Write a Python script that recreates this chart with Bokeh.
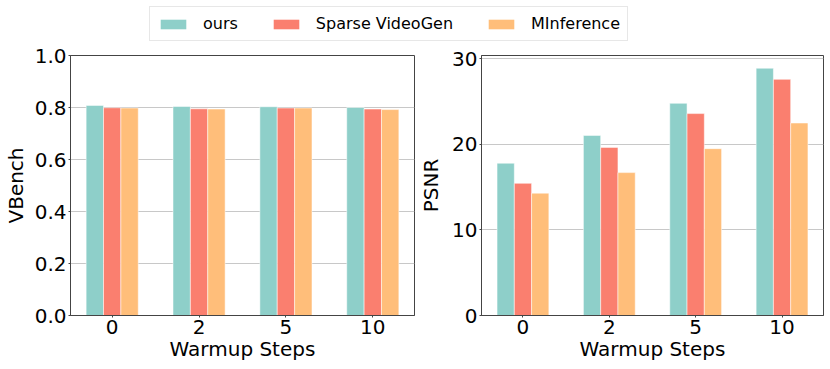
from bokeh.plotting import figure
from bokeh.models import Range1d, FixedTicker, Legend, LegendItem, ColumnDataSource, NumeralTickFormatter
from bokeh.transform import dodge
from bokeh.layouts import column, row
from bokeh.embed import file_html
from bokeh.resources import INLINE

steps = ["0", "2", "5", "10"]
methods = ["ours", "Sparse VideoGen", "MInference"]
colors = ["#8ECFC9", "#FA7F6F", "#FFBE7A"]

vbench_ours = [0.808, 0.804, 0.803, 0.800]
vbench_svg = [0.799, 0.795, 0.798, 0.794]
vbench_minf = [0.798, 0.794, 0.798, 0.792]

psnr_ours = [17.8, 21.05, 24.8, 28.9]
psnr_svg = [15.45, 19.65, 23.6, 27.6]
psnr_minf = [14.3, 16.7, 19.5, 22.5]

FONT = "DejaVu Sans"
offsets = [-0.2, 0.0, 0.2]


def make_fig(series, ylabel, y_end, yticks, fmt, w, bl, br, ylab_standoff):
    p = figure(width=w, height=324, x_range=Range1d(-0.48, 3.48), y_range=Range1d(0, y_end),
               output_backend="svg", toolbar_location=None,
               min_border_left=bl, min_border_right=br, min_border_top=14, min_border_bottom=50)
    src = ColumnDataSource(dict(x=list(range(len(steps))), s0=series[0], s1=series[1], s2=series[2]))
    for i, (off, col) in enumerate(zip(offsets, colors)):
        p.vbar(x=dodge("x", off, range=p.x_range), top="s%d" % i, width=0.2, source=src,
               fill_color=col, line_color="white", line_alpha=0.5, line_width=1)
    p.xaxis.ticker = FixedTicker(ticks=list(range(len(steps))))
    p.xaxis.major_label_overrides = {i: s for i, s in enumerate(steps)}
    p.yaxis.ticker = FixedTicker(ticks=yticks)
    if fmt:
        p.yaxis.formatter = NumeralTickFormatter(format=fmt)
    p.xaxis.axis_label = "Warmup Steps"
    p.yaxis.axis_label = ylabel
    for ax in (p.xaxis, p.yaxis):
        ax.major_label_text_font = FONT
        ax.major_label_text_font_size = "20px"
        ax.major_label_text_color = "black"
        ax.axis_label_text_font = FONT
        ax.axis_label_text_font_size = "20px"
        ax.axis_label_text_font_style = "normal"
        ax.axis_label_text_color = "black"
        ax.minor_tick_line_color = None
        ax.major_tick_in = 0
        ax.major_tick_out = 2
        ax.major_tick_line_color = "#444444"
        ax.axis_line_color = "#444444"
    p.xaxis.major_label_standoff = 2
    p.xaxis.axis_label_standoff = 0
    p.yaxis.major_label_standoff = 2
    p.yaxis.axis_label_standoff = ylab_standoff
    p.xgrid.grid_line_color = None
    p.ygrid.grid_line_color = "#c8c8c8"
    p.outline_line_color = "#444444"
    p.outline_line_alpha = 1
    return p


p1 = make_fig([vbench_ours, vbench_svg, vbench_minf], "VBench", 1.0,
              [0, 0.2, 0.4, 0.6, 0.8, 1.0], "0.0", 416, 66, 2, 4)
p2 = make_fig([psnr_ours, psnr_svg, psnr_minf], "PSNR", 30.39,
              [0, 10, 20, 30], None, 408, 58, 1, 6)

# legend figure
top = figure(width=824, height=41, x_range=Range1d(0, 1), y_range=Range1d(0, 1),
             output_backend="svg", toolbar_location=None, x_axis_type=None, y_axis_type=None,
             min_border=0)
top.outline_line_color = None
top.xgrid.grid_line_color = None
top.ygrid.grid_line_color = None
items = []
for m, col in zip(methods, colors):
    r = top.vbar(x=[0.5], top=[0], bottom=[0], width=0.0, fill_color=col, line_color=None)
    items.append(LegendItem(label=m, renderers=[r]))
leg = Legend(items=items, orientation="horizontal", location=(149, 0),
             label_text_font=FONT, label_text_font_size="16px", label_text_color="black",
             glyph_width=32, glyph_height=12, label_standoff=14, spacing=32,
             padding=7, margin=0, label_height=18,
             border_line_color="#d0d0d0", border_line_width=1, background_fill_color="white")
top.add_layout(leg, "center")

layout = column(top, row(p1, p2))
open("out.html", "w").write(file_html(layout, INLINE))
